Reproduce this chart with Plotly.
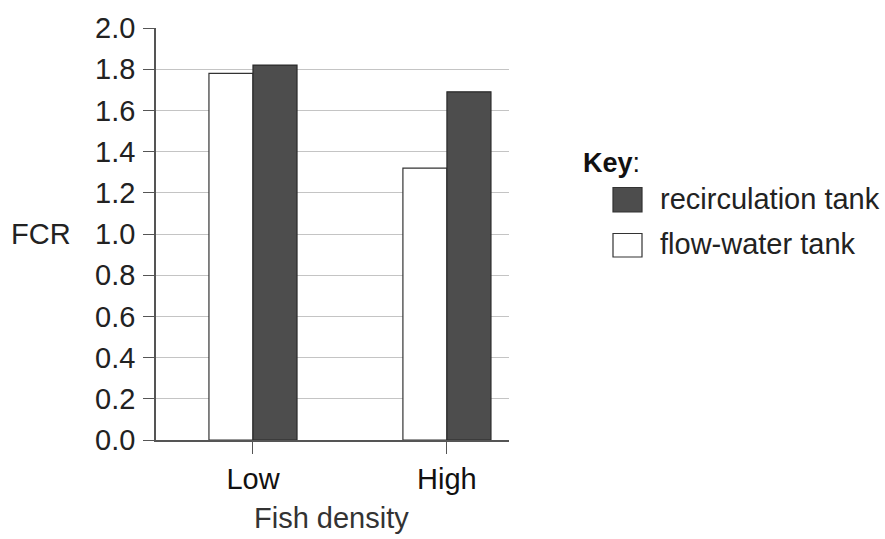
import plotly.graph_objects as go

categories = ["Low", "High"]
flow_water = [1.78, 1.32]
recirculation = [1.82, 1.69]
series_names = ["flow-water tank", "recirculation tank"]
y_ticks = [0.0, 0.2, 0.4, 0.6, 0.8, 1.0, 1.2, 1.4, 1.6, 1.8, 2.0]

FONT = "Liberation Sans, Arial, sans-serif"
DARK = "#4d4d4d"
EDGE = "#333333"
FS = 29

W, H = 885, 539
L, R, T, B = 156, 376, 19, 99
pw, ph = W - L - R, H - T - B

def px(x):
    return (x - L) / pw

def py(y):
    return (H - B - y) / ph

fig = go.Figure()
fig.add_trace(go.Bar(x=categories, y=flow_water, name=series_names[0],
                     marker=dict(color="white", line=dict(color=EDGE, width=1.2))))
fig.add_trace(go.Bar(x=categories, y=recirculation, name=series_names[1],
                     marker=dict(color=DARK, line=dict(color="#2a2a2a", width=1.2))))

shapes = []
annotations = []
# Key
annotations.append(dict(text="<b>Key</b>:", x=px(581), y=py(157), xref="paper", yref="paper",
                        xanchor="left", yanchor="middle", showarrow=False,
                        font=dict(family=FONT, size=27, color="#111")))
key_items = [(series_names[1], DARK, 182, 207), (series_names[0], "white", 229, 253)]
for name, col, y0, y1 in key_items:
    shapes.append(dict(type="rect", xref="paper", yref="paper",
                       x0=px(613), x1=px(642), y0=py(y1), y1=py(y0),
                       fillcolor=col, line=dict(color=EDGE, width=1.2)))
    annotations.append(dict(text=name, x=px(658), y=py((y0 + y1) / 2 - 1), xref="paper", yref="paper",
                            xanchor="left", yanchor="middle", showarrow=False,
                            font=dict(family=FONT, size=FS, color="#222")))
# Axis titles
annotations.append(dict(text="FCR", x=px(41), y=py(230), xref="paper", yref="paper",
                        xanchor="center", yanchor="middle", showarrow=False,
                        font=dict(family=FONT, size=FS, color="#222")))
annotations.append(dict(text="Fish density", x=px(331), y=py(520), xref="paper", yref="paper",
                        xanchor="center", yanchor="middle", showarrow=False,
                        font=dict(family=FONT, size=FS, color="#333")))

fig.update_layout(
    width=W, height=H,
    margin=dict(l=L, r=R, t=T, b=B),
    paper_bgcolor="white", plot_bgcolor="white",
    barmode="group", bargap=0.546, bargroupgap=0,
    showlegend=False,
    font=dict(family=FONT, size=FS, color="#222"),
    shapes=shapes, annotations=annotations,
    xaxis=dict(type="category", range=[-0.5, 1.32], showgrid=False,
               showline=True, linecolor="#555", linewidth=1.5,
               ticks="outside", ticklen=12, tickcolor="#555", tickwidth=1.2,
               tickson="labels", ticklabelstandoff=0,
               tickfont=dict(family=FONT, size=FS, color="#111")),
    yaxis=dict(range=[0, 2.0], tickvals=y_ticks, ticktext=[f"{v:.1f}" for v in y_ticks],
               showgrid=True, gridcolor="#c4c4c4", gridwidth=1.2,
               showline=True, linecolor="#555", linewidth=1.5,
               ticks="outside", ticklen=11, tickcolor="#555", tickwidth=1.2,
               zeroline=False, ticklabelstandoff=2,
               tickfont=dict(family=FONT, size=FS, color="#222")),
)
fig.write_html("out.html", config={"displayModeBar": False},
               post_script="document.body.style.margin='0';")
